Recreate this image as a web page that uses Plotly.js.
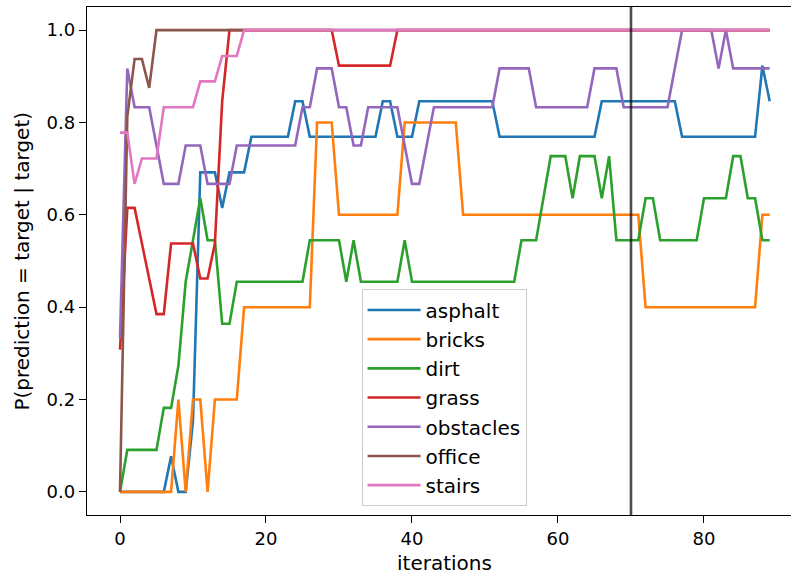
<!DOCTYPE html>
<html>
<head>
<meta charset="utf-8">
<script src="https://cdn.plot.ly/plotly-3.0.1.min.js"></script>
<style>html,body{margin:0;padding:0;overflow:hidden;background:#fff;}</style>
</head>
<body>
<div id="chart" style="width:791px;height:577px;"></div>
<script>
const iterations = [0,1,2,3,4,5,6,7,8,9,10,11,12,13,14,15,16,17,18,19,20,21,22,23,24,25,26,27,28,29,30,31,32,33,34,35,36,37,38,39,40,41,42,43,44,45,46,47,48,49,50,51,52,53,54,55,56,57,58,59,60,61,62,63,64,65,66,67,68,69,70,71,72,73,74,75,76,77,78,79,80,81,82,83,84,85,86,87,88,89];

const asphalt = [0,0,0,0,0,0,0,0.077,0,0,0.154,0.692,0.692,0.692,0.615,0.692,0.692,0.692,0.769,0.769,
0.769,0.769,0.769,0.769,0.846,0.846,0.769,0.769,0.769,0.769,0.769,0.769,0.769,0.769,0.769,0.769,0.846,0.846,0.769,0.769,
0.769,0.846,0.846,0.846,0.846,0.846,0.846,0.846,0.846,0.846,0.846,0.846,0.769,0.769,0.769,0.769,0.769,0.769,0.769,0.769,
0.769,0.769,0.769,0.769,0.769,0.769,0.846,0.846,0.846,0.846,0.846,0.846,0.846,0.846,0.846,0.846,0.846,0.769,0.769,0.769,
0.769,0.769,0.769,0.769,0.769,0.769,0.769,0.769,0.923,0.846];

const bricks = [0,0,0,0,0,0,0,0,0.2,0,0.2,0.2,0,0.2,0.2,0.2,0.2,0.4,0.4,0.4,
0.4,0.4,0.4,0.4,0.4,0.4,0.4,0.8,0.8,0.8,0.6,0.6,0.6,0.6,0.6,0.6,0.6,0.6,0.6,0.8,
0.8,0.8,0.8,0.8,0.8,0.8,0.8,0.6,0.6,0.6,0.6,0.6,0.6,0.6,0.6,0.6,0.6,0.6,0.6,0.6,
0.6,0.6,0.6,0.6,0.6,0.6,0.6,0.6,0.6,0.6,0.6,0.6,0.4,0.4,0.4,0.4,0.4,0.4,0.4,0.4,
0.4,0.4,0.4,0.4,0.4,0.4,0.4,0.4,0.6,0.6];

const dirt = [0,0.091,0.091,0.091,0.091,0.091,0.182,0.182,0.273,0.455,0.545,0.636,0.545,0.545,0.364,0.364,0.455,0.455,0.455,0.455,
0.455,0.455,0.455,0.455,0.455,0.455,0.545,0.545,0.545,0.545,0.545,0.455,0.545,0.455,0.455,0.455,0.455,0.455,0.455,0.545,
0.455,0.455,0.455,0.455,0.455,0.455,0.455,0.455,0.455,0.455,0.455,0.455,0.455,0.455,0.455,0.545,0.545,0.545,0.636,0.727,
0.727,0.727,0.636,0.727,0.727,0.727,0.636,0.727,0.545,0.545,0.545,0.545,0.636,0.636,0.545,0.545,0.545,0.545,0.545,0.545,
0.636,0.636,0.636,0.636,0.727,0.727,0.636,0.636,0.545,0.545];

const grass = [0.308,0.615,0.615,0.538,0.462,0.385,0.385,0.538,0.538,0.538,0.538,0.462,0.462,0.538,0.846,1,1,1,1,1,
1,1,1,1,1,1,1,1,1,1,0.923,0.923,0.923,0.923,0.923,0.923,0.923,0.923,1,1,
1,1,1,1,1,1,1,1,1,1,1,1,1,1,1,1,1,1,1,1,
1,1,1,1,1,1,1,1,1,1,1,1,1,1,1,1,1,1,1,1,
1,1,1,1,1,1,1,1,1,1];

const obstacles = [0.333,0.917,0.833,0.833,0.833,0.75,0.667,0.667,0.667,0.75,0.75,0.75,0.667,0.667,0.667,0.667,0.75,0.75,0.75,0.75,
0.75,0.75,0.75,0.75,0.75,0.833,0.833,0.917,0.917,0.917,0.833,0.833,0.75,0.75,0.833,0.833,0.833,0.833,0.833,0.75,
0.667,0.667,0.75,0.833,0.833,0.833,0.833,0.833,0.833,0.833,0.833,0.833,0.917,0.917,0.917,0.917,0.917,0.833,0.833,0.833,
0.833,0.833,0.833,0.833,0.833,0.917,0.917,0.917,0.917,0.833,0.833,0.833,0.833,0.833,0.833,0.833,0.917,1,1,1,
1,1,0.917,1,0.917,0.917,0.917,0.917,0.917,0.917];

const office = [0,0.8125,0.9375,0.9375,0.875,1,1,1,1,1,1,1,1,1,1,1,1,1,1,1,
1,1,1,1,1,1,1,1,1,1,1,1,1,1,1,1,1,1,1,1,
1,1,1,1,1,1,1,1,1,1,1,1,1,1,1,1,1,1,1,1,
1,1,1,1,1,1,1,1,1,1,1,1,1,1,1,1,1,1,1,1,
1,1,1,1,1,1,1,1,1,1];

const stairs = [0.778,0.778,0.667,0.722,0.722,0.722,0.833,0.833,0.833,0.833,0.833,0.889,0.889,0.889,0.944,0.944,0.944,1,1,1,
1,1,1,1,1,1,1,1,1,1,1,1,1,1,1,1,1,1,1,1,
1,1,1,1,1,1,1,1,1,1,1,1,1,1,1,1,1,1,1,1,
1,1,1,1,1,1,1,1,1,1,1,1,1,1,1,1,1,1,1,1,
1,1,1,1,1,1,1,1,1,1];

const seriesNames = ['asphalt','bricks','dirt','grass','obstacles','office','stairs'];
const seriesValues = [asphalt, bricks, dirt, grass, obstacles, office, stairs];
const seriesColors = ['#1f77b4','#ff7f0e','#2ca02c','#d62728','#9467bd','#8c564b','#e377c2'];
const markerIteration = 70;
const xTicks = [0,20,40,60,80];
const yTicks = [0,0.2,0.4,0.6,0.8,1.0];
const yTickText = ['0.0','0.2','0.4','0.6','0.8','1.0'];
const xLabel = 'iterations';
const yLabel = 'P(prediction = target | target)';

const FONT = 'DejaVu Sans, sans-serif';
const FS = 18;
const LFS = 20;

const traces = seriesNames.map((name, i) => ({
  x: iterations,
  y: seriesValues[i],
  name: name,
  legendgroup: name,
  type: 'scatter',
  mode: 'lines',
  line: {color: seriesColors[i], width: 2.6},
  hoverinfo: 'x+y+name'
}));

const axisCommon = {
  showgrid: false,
  zeroline: false,
  showline: true,
  linecolor: '#000',
  linewidth: 1.4,
  ticks: 'outside',
  ticklen: 7,
  tickwidth: 1.4,
  tickcolor: '#000',
  tickfont: {family: FONT, size: FS, color: '#000'}
};

const layout = {
  width: 791,
  height: 577,
  margin: {l: 87, r: 0, t: 7, b: 62},
  paper_bgcolor: '#fff',
  plot_bgcolor: '#fff',
  font: {family: FONT, size: FS, color: '#000'},
  showlegend: true,
  xaxis: Object.assign({}, axisCommon, {
    range: [-4.52, 91.92],
    tickvals: xTicks,
    mirror: true
  }),
  yaxis: Object.assign({}, axisCommon, {
    range: [-0.05, 1.05],
    tickvals: yTicks,
    ticktext: yTickText,
    mirror: false
  }),
  annotations: [
    {text: xLabel, xref: 'paper', yref: 'paper', x: 0.508, y: -0.0945,
     xanchor: 'center', yanchor: 'middle', showarrow: false,
     font: {family: FONT, size: LFS, color: '#000'}},
    {text: yLabel, xref: 'paper', yref: 'paper', x: -0.093, y: 0.5,
     xanchor: 'center', yanchor: 'middle', textangle: -90, showarrow: false,
     font: {family: FONT, size: LFS, color: '#000'}}
  ],
  legend: {
    x: 0.39, y: 0.444, xanchor: 'left', yanchor: 'top',
    bgcolor: 'rgba(255,255,255,0.8)',
    bordercolor: '#cccccc',
    borderwidth: 1,
    font: {family: FONT, size: LFS, color: '#000'},
    tracegroupgap: 0.2,
    traceorder: 'grouped',
    itemwidth: 53
  },
  shapes: [{
    type: 'line', xref: 'x', yref: 'paper',
    x0: markerIteration, x1: markerIteration, y0: 0, y1: 1,
    line: {color: 'rgba(0,0,0,0.7)', width: 2.6},
    layer: 'above'
  }]
};

Plotly.newPlot('chart', traces, layout, {displayModeBar: false, responsive: false});
</script>
</body>
</html>
